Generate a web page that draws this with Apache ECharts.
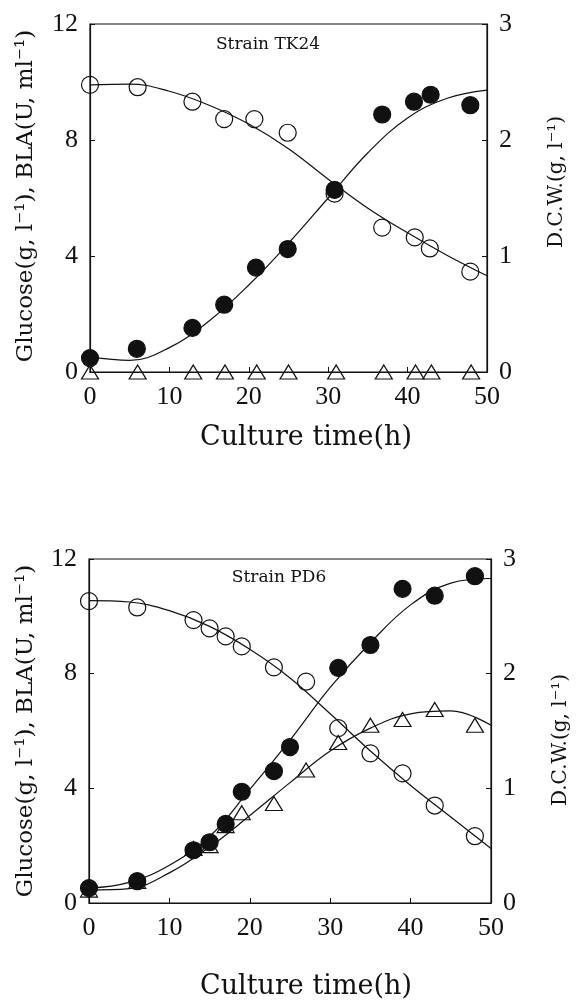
<!DOCTYPE html>
<html>
<head>
<meta charset="utf-8">
<script src="https://cdn.jsdelivr.net/npm/echarts@6/dist/echarts.min.js"></script>
<style>
  html, body { margin: 0; padding: 0; background: #fff; }
  #chart { width: 579px; height: 1000px; }
</style>
</head>
<body>
<div id="chart"></div>
<script>
// tick labels
const timeTicks = [0, 10, 20, 30, 40, 50]
const leftTicks = [0, 4, 8, 12]
const rightTicks = [0, 1, 2, 3]

// Strain TK24 measured points
const tk24GlucoseTime = [0, 6, 12.9, 16.9, 20.7, 24.9, 30.8, 36.8, 40.9, 42.8, 47.9]
const tk24Glucose = [9.9, 9.82, 9.32, 8.72, 8.72, 8.25, 6.15, 4.98, 4.64, 4.26, 3.46]
const tk24CellTime = [0, 5.9, 12.9, 16.9, 20.9, 24.9, 30.8, 36.8, 40.8, 42.9, 47.9]
const tk24Cell = [0.12, 0.2, 0.38, 0.58, 0.9, 1.06, 1.57, 2.22, 2.33, 2.39, 2.3]
const tk24BlaTime = [0, 6, 13, 17, 21, 25, 31, 37, 41, 43, 48]
const tk24Bla = [0, 0, 0, 0, 0, 0, 0, 0, 0, 0, 0]

// Strain PD6 measured points
const pd6GlucoseTime = [0, 6, 13, 15, 17, 19, 23, 27, 31, 35, 39, 43, 48]
const pd6Glucose = [10.53, 10.31, 9.87, 9.58, 9.3, 8.95, 8.22, 7.72, 6.1, 5.22, 4.52, 3.4, 2.33]
const pd6CellTime = [0, 6, 13, 15, 17, 19, 23, 25, 31, 35, 39, 43, 48]
const pd6Cell = [0.13, 0.19, 0.46, 0.53, 0.69, 0.97, 1.15, 1.36, 2.05, 2.25, 2.74, 2.68, 2.85]
const pd6BlaTime = [0, 6, 13, 15, 17, 19, 23, 27, 31, 35, 39, 43, 48]
const pd6Bla = [0.45, 0.75, 1.9, 2.0, 2.7, 3.15, 3.47, 4.64, 5.6, 6.2, 6.4, 6.75, 6.2]

// fitted curves
const fitTime = [0, 5, 10, 15, 20, 25, 30, 35, 40, 45, 50]
const tk24GlucoseFit = [9.9, 9.93, 9.68, 9.2, 8.55, 7.7, 6.65, 5.65, 4.8, 4.02, 3.32]
const tk24CellFit = [0.13, 0.1, 0.21, 0.44, 0.75, 1.11, 1.5, 1.89, 2.19, 2.36, 2.43]
const pd6GlucoseFit = [10.55, 10.5, 10.2, 9.65, 8.85, 7.85, 6.6, 5.3, 4.1, 3.0, 1.9]
const pd6CellFit = [0.13, 0.18, 0.33, 0.58, 0.99, 1.42, 1.88, 2.27, 2.6, 2.79, 2.83]
const pd6BlaFit = [0.45, 0.5, 1.05, 1.95, 3.05, 4.2, 5.3, 6.1, 6.6, 6.7, 6.2]

const INK = '#111'
const tickFont = { color: INK, fontFamily: 'Liberation Serif', fontSize: 26 }

function zip(xs, ys) {
  return xs.map((x, i) => [x, ys[i]])
}

function timeAxis(gridIndex) {
  return {
    type: 'value',
    gridIndex,
    min: timeTicks[0],
    max: timeTicks[timeTicks.length - 1],
    interval: timeTicks[1] - timeTicks[0],
    axisLine: { lineStyle: { color: INK, width: 1.2 } },
    axisTick: { inside: true, length: 5, lineStyle: { color: INK } },
    axisLabel: { ...tickFont, margin: 12 },
    splitLine: { show: false }
  }
}

function valueAxis(gridIndex, ticks, position) {
  return {
    type: 'value',
    gridIndex,
    position,
    min: ticks[0],
    max: ticks[ticks.length - 1],
    interval: ticks[1] - ticks[0],
    axisLine: { show: true, lineStyle: { color: INK, width: 1.2 } },
    axisTick: { show: true, inside: true, length: 5, lineStyle: { color: INK } },
    axisLabel: { ...tickFont, margin: 12 },
    splitLine: { show: false }
  }
}

function points(name, data, axes, symbol, filled) {
  return {
    name,
    type: 'scatter',
    xAxisIndex: axes[0],
    yAxisIndex: axes[1],
    symbol,
    symbolSize: symbol === 'triangle' ? [17, 14] : 17,
    itemStyle: {
      color: filled ? INK : 'rgba(255,255,255,0)',
      borderColor: INK,
      borderWidth: 1.2,
      opacity: 1
    },
    z: 3,
    data
  }
}

function fit(name, data, axes) {
  return {
    name,
    type: 'line',
    xAxisIndex: axes[0],
    yAxisIndex: axes[1],
    smooth: 0.4,
    showSymbol: false,
    lineStyle: { color: INK, width: 1.2 },
    z: 2,
    data
  }
}

// 纵向文字：标题沿轴旋转 90 度
function text(content, x, y, size, vertical) {
  return {
    type: 'text',
    x,
    y,
    rotation: vertical ? Math.PI / 2 : 0,
    style: {
      text: content,
      fill: INK,
      font: `${size}px "DejaVu Serif"`,
      align: 'center',
      verticalAlign: 'middle'
    }
  }
}

const chart = echarts.init(document.getElementById('chart'))

chart.setOption({
  backgroundColor: '#fff',
  animation: false,
  grid: [
    { left: 90, top: 24, width: 397, height: 348, show: true, borderColor: INK, borderWidth: 1.2 },
    { left: 89, top: 559, width: 402, height: 344, show: true, borderColor: INK, borderWidth: 1.2 }
  ],
  xAxis: [timeAxis(0), timeAxis(1)],
  yAxis: [
    valueAxis(0, leftTicks, 'left'),
    valueAxis(0, rightTicks, 'right'),
    valueAxis(1, leftTicks, 'left'),
    valueAxis(1, rightTicks, 'right')
  ],
  graphic: [
    text('Strain TK24', 268, 45, 17),
    text('Strain PD6', 279, 578, 17),
    text('Culture time(h)', 306, 438, 27),
    text('Culture time(h)', 306, 987, 27),
    text('Glucose(g, l\u207B\u00B9), BLA(U, ml\u207B\u00B9)', 26, 196, 23, true),
    text('Glucose(g, l\u207B\u00B9), BLA(U, ml\u207B\u00B9)', 26, 731, 23, true),
    text('D.C.W.(g, l\u207B\u00B9)', 557, 182, 20, true),
    text('D.C.W.(g, l\u207B\u00B9)', 561, 740, 20, true)
  ],
  series: [
    fit('TK24 glucose fit', zip(fitTime, tk24GlucoseFit), [0, 0]),
    fit('TK24 D.C.W. fit', zip(fitTime, tk24CellFit), [0, 1]),
    points('TK24 glucose', zip(tk24GlucoseTime, tk24Glucose), [0, 0], 'circle', false),
    points('TK24 D.C.W.', zip(tk24CellTime, tk24Cell), [0, 1], 'circle', true),
    points('TK24 BLA', zip(tk24BlaTime, tk24Bla), [0, 0], 'triangle', false),

    fit('PD6 glucose fit', zip(fitTime, pd6GlucoseFit), [1, 2]),
    fit('PD6 D.C.W. fit', zip(fitTime, pd6CellFit), [1, 3]),
    fit('PD6 BLA fit', zip(fitTime, pd6BlaFit), [1, 2]),
    points('PD6 glucose', zip(pd6GlucoseTime, pd6Glucose), [1, 2], 'circle', false),
    points('PD6 D.C.W.', zip(pd6CellTime, pd6Cell), [1, 3], 'circle', true),
    points('PD6 BLA', zip(pd6BlaTime, pd6Bla), [1, 2], 'triangle', false)
  ]
})
</script>
</body>
</html>
